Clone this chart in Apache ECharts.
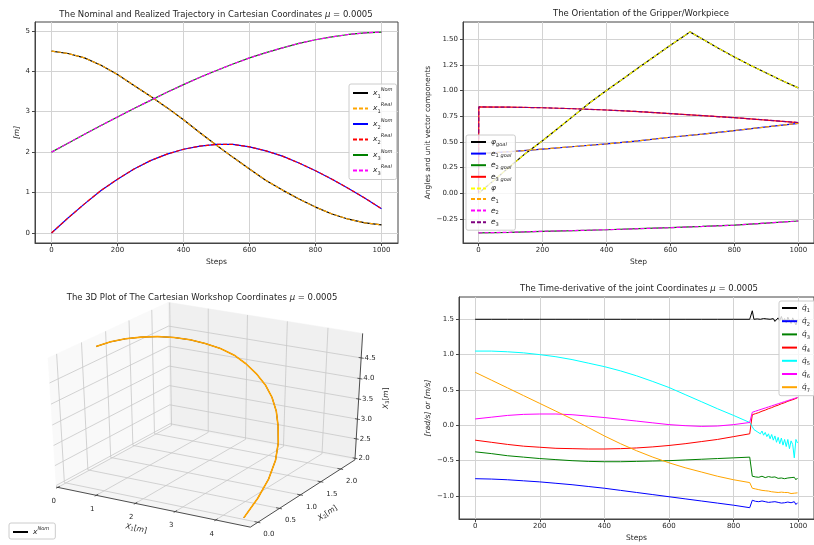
<!DOCTYPE html>
<html><head><meta charset="utf-8">
<script src="https://cdn.jsdelivr.net/npm/echarts@6/dist/echarts.min.js"></script>
<style>html,body{margin:0;padding:0;background:#fff}#c{width:814px;height:545px}</style>
</head><body><div id="c"></div>
<script>
// ---------- data: top-left (Cartesian trajectory) ----------
const stepsA = [0,50,100,150,200,250,300,350,400,450,500,550,600,650,700,750,800,850,900,950,1000];
const x1Nom  = [4.50,4.44,4.33,4.15,3.92,3.65,3.38,3.10,2.80,2.48,2.17,1.87,1.58,1.30,1.06,0.84,0.64,0.47,0.34,0.25,0.20];
const x1Real = [4.50,4.44,4.33,4.15,3.92,3.65,3.38,3.10,2.80,2.48,2.17,1.87,1.58,1.30,1.06,0.84,0.64,0.47,0.34,0.25,0.20];
const x2Nom  = [0.00,0.37,0.72,1.05,1.33,1.58,1.79,1.95,2.07,2.15,2.19,2.19,2.13,2.03,1.90,1.73,1.54,1.33,1.10,0.86,0.60];
const x2Real = [0.00,0.37,0.72,1.05,1.33,1.58,1.79,1.95,2.07,2.15,2.19,2.19,2.13,2.03,1.90,1.73,1.54,1.33,1.10,0.86,0.60];
const x3Nom  = [2.00,2.22,2.44,2.66,2.87,3.08,3.28,3.48,3.67,3.85,4.02,4.18,4.33,4.46,4.58,4.69,4.78,4.85,4.91,4.95,4.97];
const x3Real = [2.00,2.22,2.44,2.66,2.87,3.08,3.28,3.48,3.67,3.85,4.02,4.18,4.33,4.46,4.58,4.69,4.78,4.85,4.91,4.95,4.97];

// ---------- data: top-right (orientation) ----------
const phiSteps = [0,50,100,150,200,250,300,350,400,450,500,550,600,650,661,700,750,800,850,900,950,1000];
const phiGoal  = [0,0.13,0.265,0.395,0.51,0.635,0.76,0.885,1.0,1.11,1.22,1.33,1.44,1.545,1.57,1.50,1.41,1.325,1.245,1.17,1.095,1.025];
const phiReal  = [0,0.13,0.265,0.395,0.51,0.635,0.76,0.885,1.0,1.11,1.22,1.33,1.44,1.545,1.57,1.50,1.41,1.325,1.245,1.17,1.095,1.025];
const eSteps = [0,1,100,200,300,400,500,600,700,800,900,1000];
const e1Goal = [0.385,0.385,0.405,0.43,0.455,0.48,0.51,0.545,0.575,0.61,0.645,0.68];
const e2Goal = [-0.385,-0.385,-0.38,-0.37,-0.363,-0.355,-0.345,-0.335,-0.323,-0.31,-0.29,-0.27];
const e3Goal = [0,0.84,0.837,0.832,0.822,0.81,0.795,0.775,0.755,0.735,0.712,0.688];
const e1Real = [0.385,0.385,0.405,0.43,0.455,0.48,0.51,0.545,0.575,0.61,0.645,0.68];
const e2Real = [-0.385,-0.385,-0.38,-0.37,-0.363,-0.355,-0.345,-0.335,-0.323,-0.31,-0.29,-0.27];
const e3Real = [0,0.84,0.837,0.832,0.822,0.81,0.795,0.775,0.755,0.735,0.712,0.688];

// ---------- data: bottom-right (joint velocities) ----------
const qSteps = [0,50,100,150,200,250,300,350,400,450,500,550,600,650,700,750,800,850,856,
  858,863,868,873,878,883,888,893,898,903,908,913,918,923,928,933,938,943,948,953,958,963,968,973,978,983,988,993,998];
const q1 = [1.5,1.5,1.5,1.5,1.5,1.5,1.5,1.5,1.5,1.5,1.5,1.5,1.5,1.5,1.5,1.5,1.5,1.5,1.5,
  1.62,1.50,1.495,1.505,1.49,1.50,1.495,1.51,1.49,1.505,1.49,1.50,1.485,1.51,1.47,1.46,1.52,1.48,1.54,1.47,1.51,1.45,1.53,1.48,1.44,1.52,1.47,1.42,1.49];
const q2 = [-0.755,-0.76,-0.77,-0.785,-0.80,-0.82,-0.84,-0.865,-0.89,-0.92,-0.95,-0.98,-1.01,-1.04,-1.07,-1.10,-1.13,-1.165,-1.17,
  -1.06,-1.07,-1.075,-1.07,-1.08,-1.075,-1.07,-1.085,-1.08,-1.075,-1.09,-1.08,-1.085,-1.09,-1.08,-1.095,-1.09,-1.085,-1.10,-1.09,-1.095,-1.10,-1.085,-1.10,-1.095,-1.11,-1.08,-1.12,-1.095];
const q3 = [-0.375,-0.40,-0.43,-0.45,-0.47,-0.485,-0.50,-0.51,-0.515,-0.515,-0.51,-0.505,-0.50,-0.49,-0.48,-0.47,-0.46,-0.45,-0.45,
  -0.72,-0.725,-0.73,-0.725,-0.735,-0.73,-0.72,-0.735,-0.74,-0.73,-0.725,-0.74,-0.735,-0.745,-0.73,-0.74,-0.75,-0.735,-0.745,-0.74,-0.755,-0.735,-0.745,-0.75,-0.74,-0.76,-0.735,-0.77,-0.745];
const q4 = [-0.21,-0.24,-0.27,-0.295,-0.31,-0.325,-0.33,-0.335,-0.335,-0.33,-0.32,-0.305,-0.285,-0.26,-0.23,-0.20,-0.16,-0.12,-0.11,
  0.15,0.155,0.165,0.17,0.18,0.19,0.20,0.205,0.215,0.225,0.235,0.24,0.25,0.26,0.27,0.275,0.285,0.295,0.305,0.31,0.32,0.33,0.34,0.345,0.355,0.365,0.37,0.38,0.39];
const q5 = [1.05,1.05,1.04,1.025,1.0,0.97,0.93,0.88,0.83,0.77,0.70,0.62,0.535,0.435,0.335,0.235,0.14,0.04,0.028,
  -0.02,-0.06,-0.04,-0.09,-0.07,-0.12,-0.08,-0.14,-0.10,-0.16,-0.12,-0.19,-0.13,-0.21,-0.15,-0.24,-0.17,-0.26,-0.18,-0.28,-0.20,-0.30,-0.20,-0.33,-0.22,-0.27,-0.46,-0.20,-0.25];
const q6 = [0.09,0.115,0.14,0.155,0.16,0.16,0.15,0.13,0.11,0.085,0.06,0.035,0.01,-0.005,-0.015,-0.01,0.01,0.04,0.05,
  0.185,0.19,0.20,0.205,0.215,0.22,0.23,0.235,0.245,0.25,0.26,0.265,0.275,0.28,0.29,0.295,0.305,0.31,0.32,0.325,0.335,0.34,0.35,0.355,0.365,0.37,0.38,0.385,0.395];
const q7 = [0.75,0.64,0.53,0.42,0.31,0.20,0.09,-0.03,-0.15,-0.26,-0.36,-0.45,-0.53,-0.60,-0.66,-0.72,-0.77,-0.81,-0.81,
  -0.89,-0.895,-0.90,-0.905,-0.91,-0.915,-0.92,-0.92,-0.925,-0.93,-0.93,-0.935,-0.94,-0.94,-0.945,-0.945,-0.95,-0.95,-0.945,-0.955,-0.95,-0.96,-0.95,-0.955,-0.965,-0.95,-0.96,-0.97,-0.955];

// ---------- tick labels ----------
const ticksStep = [0,200,400,600,800,1000];
const ticksY1 = [0,1,2,3,4,5];
const ticksY2 = [-0.25,0,0.25,0.5,0.75,1.0,1.25,1.5];
const ticksY4 = [-1.0,-0.5,0,0.5,1.0,1.5];
const ticks3dX1 = [0,1,2,3,4];
const ticks3dX2 = [0,0.5,1.0,1.5,2.0];
const ticks3dX3 = [2.0,2.5,3.0,3.5,4.0,4.5];

// ---------- 3D projection (matplotlib-like view, elev 30, azim -60) ----------
const B1 = [-0.04, 4.84], B2 = [-0.17, 2.37], B3 = [1.96, 5.08];
const VIEW = {elev: 30, azim: -60, dist: 10, sx: 224.3, sy: 141.8, cx: 207.9, cy: 411, kz: 1.04};
const el = VIEW.elev*Math.PI/180, az = VIEW.azim*Math.PI/180;
const DV = [Math.cos(el)*Math.cos(az), Math.cos(el)*Math.sin(az), Math.sin(el)];
const UV = (() => { const x = -DV[1], y = DV[0]; const n = Math.hypot(x, y); return [x/n, y/n, 0]; })();
const VV = [DV[1]*UV[2]-DV[2]*UV[1], DV[2]*UV[0]-DV[0]*UV[2], DV[0]*UV[1]-DV[1]*UV[0]];
function proj(a, b, c) {
  const p = [(a-B1[0])/(B1[1]-B1[0]) - 0.5, (b-B2[0])/(B2[1]-B2[0]) - 0.5, ((c-B3[0])/(B3[1]-B3[0]) - 0.5)*VIEW.kz];
  const dot = (w) => w[0]*p[0] + w[1]*p[1] + w[2]*p[2];
  const f = VIEW.dist/(VIEW.dist - dot(DV));
  return [VIEW.cx + VIEW.sx*dot(UV)*f, VIEW.cy - VIEW.sy*dot(VV)*f];
}

// ---------- helpers ----------
const FONT = "'DejaVu Sans', sans-serif";
const TXT = '#262626';
const pairs = (xs, ys) => xs.map((x, i) => [x, ys[i]]);
const fmtMinus = (s) => s.replace('-', '\u2212');
const rich = (fs, lh) => ({
  v: {fontFamily: FONT, fontStyle: 'italic', fontSize: fs, lineHeight: lh, color: TXT, verticalAlign: 'middle'},
  g: {fontFamily: FONT, fontSize: fs, lineHeight: lh, color: TXT, verticalAlign: 'middle'},
  sb: {fontFamily: FONT, fontSize: fs*0.68, lineHeight: fs*0.75, color: TXT, verticalAlign: 'bottom'},
  sbi: {fontFamily: FONT, fontStyle: 'italic', fontSize: fs*0.68, lineHeight: fs*0.75, color: TXT, verticalAlign: 'bottom'},
  sp: {fontFamily: FONT, fontStyle: 'italic', fontSize: fs*0.68, lineHeight: fs*0.75, color: TXT, verticalAlign: 'top'}
});
function xAxisCfg(gi, min, max, name, gap) {
  return {type: 'value', gridIndex: gi, min, max, name, nameLocation: 'middle', nameGap: gap,
    nameTextStyle: {fontFamily: FONT, fontSize: 7.5, color: TXT},
    axisLine: {show: true, onZero: false, lineStyle: {color: '#444', width: 1}},
    axisTick: {show: true, length: 3, lineStyle: {color: '#444'}, customValues: ticksStep},
    axisLabel: {fontFamily: FONT, fontSize: 7, color: TXT, margin: 4, customValues: ticksStep,
      formatter: (v) => String(Math.round(v))},
    splitLine: {show: true, lineStyle: {color: '#d3d3d3', width: 1}}};
}
function yAxisCfg(gi, min, max, name, gap, ticks, dec, nameStyle) {
  return {type: 'value', gridIndex: gi, min, max, name, nameLocation: 'middle', nameGap: gap, nameRotate: 90,
    nameTextStyle: Object.assign({fontFamily: FONT, fontSize: 7.5, color: TXT}, nameStyle || {}),
    axisLine: {show: true, onZero: false, lineStyle: {color: '#444', width: 1}},
    axisTick: {show: true, length: 3, lineStyle: {color: '#444'}, customValues: ticks},
    axisLabel: {fontFamily: FONT, fontSize: 7, color: TXT, margin: 5, customValues: ticks,
      formatter: (v) => fmtMinus(Number(v).toFixed(dec))},
    splitLine: {show: true, lineStyle: {color: '#d3d3d3', width: 1}}};
}
function lineS(name, xi, xs, ys, color, dashed, w) {
  return {name, type: 'line', xAxisIndex: xi, yAxisIndex: xi, data: pairs(xs, ys), symbol: 'none', showSymbol: false,
    lineStyle: {color, width: w || 1.2, type: dashed ? [4, 2] : 'solid'}, itemStyle: {color}, z: 3, silent: true};
}
function legendCfg(names, labels, left, top, lh, gap, pad) {
  return {data: names, orient: 'vertical', left, top, itemWidth: 15, itemHeight: 8, itemGap: gap, padding: pad,
    backgroundColor: 'rgba(255,255,255,0.8)', borderColor: '#cccccc', borderWidth: 1, borderRadius: 2,
    itemStyle: {opacity: 0, borderWidth: 0},
    formatter: (n) => labels[n], selectedMode: false,
    textStyle: {fontFamily: FONT, fontSize: 7.5, color: TXT, rich: rich(7.5, lh)}};
}
const titleCfg = (pre, post, left, top) => ({
  text: post === null ? '{n|' + pre + '}' : '{n|' + pre + '}{i|\u03bc}{n|' + post + '}',
  left, top, textAlign: 'center', padding: 0,
  textStyle: {fontFamily: FONT, fontSize: 8.5, fontWeight: 'normal', color: TXT,
    rich: {n: {fontFamily: FONT, fontSize: 8.5, color: TXT}, i: {fontFamily: FONT, fontStyle: 'italic', fontSize: 8.5, color: TXT}}}
});

// ---------- 3D frame (custom series drawn through pixel-space axes) ----------
function render3D(params, api) {
  const P = (a, b, c) => api.coord(proj(a, b, c));
  const kids = [];
  const poly = (pts, fill) => kids.push({type: 'polygon', shape: {points: pts}, style: {fill, stroke: fill, lineWidth: 0.5}});
  const seg = (p, q, color, w) => kids.push({type: 'line', shape: {x1: p[0], y1: p[1], x2: q[0], y2: q[1]}, style: {stroke: color, lineWidth: w}});
  const txt = (p, dx, dy, text, rot, extra) => kids.push({type: 'text', x: p[0] + dx, y: p[1] + dy, rotation: rot || 0,
    style: Object.assign({text, fill: TXT, fontFamily: FONT, fontSize: 7, align: 'center', verticalAlign: 'middle'}, extra || {})});
  const [a0, a1] = B1, [b0, b1] = B2, [c0, c1] = B3;
  poly([P(a0,b0,c0), P(a1,b0,c0), P(a1,b1,c0), P(a0,b1,c0)], '#f5f5f5');   // floor
  poly([P(a0,b0,c0), P(a0,b1,c0), P(a0,b1,c1), P(a0,b0,c1)], '#f9f9f9');   // x1 = min wall
  poly([P(a0,b1,c0), P(a1,b1,c0), P(a1,b1,c1), P(a0,b1,c1)], '#f0f0f0');   // x2 = max wall
  const G = '#c8c8c8', GW = 0.8;
  ticks3dX1.forEach(t => { seg(P(t,b0,c0), P(t,b1,c0), G, GW); seg(P(t,b1,c0), P(t,b1,c1), G, GW); });
  ticks3dX2.forEach(t => { seg(P(a0,t,c0), P(a1,t,c0), G, GW); seg(P(a0,t,c0), P(a0,t,c1), G, GW); });
  ticks3dX3.forEach(t => { seg(P(a0,b0,t), P(a0,b1,t), G, GW); seg(P(a0,b1,t), P(a1,b1,t), G, GW); });
  const AX = '#3a3a3a';
  seg(P(a0,b0,c0), P(a1,b0,c0), AX, 0.9);
  seg(P(a1,b0,c0), P(a1,b1,c0), AX, 0.9);
  seg(P(a1,b1,c0), P(a1,b1,c1), AX, 0.9);
  const d1 = (B1[1]-B1[0])/12, d2 = (B2[1]-B2[0])/12;
  ticks3dX1.forEach(t => { seg(P(t,b0+0.2*d2,c0), P(t,b0-0.15*d2,c0), AX, 0.8); txt(P(t,b0,c0), -4, 14, String(t)); });
  ticks3dX2.forEach(t => { seg(P(a1-0.2*d1,t,c0), P(a1+0.15*d1,t,c0), AX, 0.8); txt(P(a1,t,c0), 11, 12, t.toFixed(1)); });
  ticks3dX3.forEach(t => { seg(P(a1-0.15*d1,b1,t), P(a1+0.15*d1,b1,t), AX, 0.8); txt(P(a1,b1,t), 9, 0, t.toFixed(1)); });
  const lab = {rich: {i: {fontFamily: FONT, fontStyle: 'italic', fontSize: 7.5, fill: TXT}, n: {fontFamily: FONT, fontSize: 7.5, fill: TXT},
    s: {fontFamily: FONT, fontSize: 5.2, fill: TXT, verticalAlign: 'bottom', lineHeight: 6}}};
  txt(P((a0+a1)/2,b0,c0), -15, 22, '{i|X}{s|1}{n|[}{i|m}{n|]}', -0.21, lab);
  txt(P(a1,(b0+b1)/2,c0), 23, 21, '{i|X}{s|2}{n|[}{i|m}{n|]}', 0.59, lab);
  txt(P(a1,b1,(c0+c1)/2), 27, 0, '{i|X}{s|3}{n|[}{i|m}{n|]}', Math.PI/2, lab);
  return {type: 'group', children: kids};
}

const lab1 = {x1Nom: '{v|x}{sb|1}{sp|Nom}', x1Real: '{v|x}{sb|1}{sp|Real}', x2Nom: '{v|x}{sb|2}{sp|Nom}',
  x2Real: '{v|x}{sb|2}{sp|Real}', x3Nom: '{v|x}{sb|3}{sp|Nom}', x3Real: '{v|x}{sb|3}{sp|Real}'};
const lab2 = {phiGoal: '{v|\u03c6}{sbi|goal}', e1Goal: '{v|e}{sb|1 }{sbi|goal}', e2Goal: '{v|e}{sb|2 }{sbi|goal}',
  e3Goal: '{v|e}{sb|3 }{sbi|goal}', phiReal: '{v|\u03c6}', e1Real: '{v|e}{sb|1}', e2Real: '{v|e}{sb|2}', e3Real: '{v|e}{sb|3}'};
const lab4 = {q1: '{v|q\u0307}{sb|1}', q2: '{v|q\u0307}{sb|2}', q3: '{v|q\u0307}{sb|3}', q4: '{v|q\u0307}{sb|4}',
  q5: '{v|q\u0307}{sb|5}', q6: '{v|q\u0307}{sb|6}', q7: '{v|q\u0307}{sb|7}'};
const lab3 = {xNom3D: '{v|x}{sp|Nom}'};

const curve3D = stepsA.map((s, i) => proj(x1Nom[i], x2Nom[i], x3Nom[i]));
const curve3DReal = stepsA.map((s, i) => proj(x1Real[i], x2Real[i], x3Real[i]));

const option = {
  animation: false,
  backgroundColor: '#ffffff',
  title: [
    titleCfg('The Nominal and Realized Trajectory in Cartesian Coordinates ', ' = 0.0005', 216, 10),
    titleCfg('The Orientation of the Gripper/Workpiece', null, 641, 9),
    titleCfg('The 3D Plot of The Cartesian Workshop Coordinates ', ' = 0.0005', 202, 293),
    titleCfg('The Time-derivative of the joint Coordinates ', ' = 0.0005', 639, 284)
  ],
  grid: [
    {left: 35, top: 22, width: 363, height: 221, show: true, borderColor: '#444', borderWidth: 1, containLabel: false},
    {left: 463, top: 22, width: 356, height: 221, show: true, borderColor: '#444', borderWidth: 1},
    {left: 0, top: 0, width: 814, height: 545, show: false},
    {left: 459, top: 297, width: 360, height: 222, show: true, borderColor: '#444', borderWidth: 1}
  ],
  xAxis: [
    xAxisCfg(0, -50, 1050, 'Steps', 15),
    xAxisCfg(1, -48.5, 1049, 'Step', 15),
    {type: 'value', gridIndex: 2, min: 0, max: 814, show: false},
    xAxisCfg(3, -50, 1049, 'Steps', 15)
  ],
  yAxis: [
    yAxisCfg(0, -0.2485, 5.2185, '[m]', 14, ticksY1, 0, {fontStyle: 'italic'}),
    yAxisCfg(1, -0.484, 1.666, 'Angles and unit vector components', 31, ticksY2, 2),
    {type: 'value', gridIndex: 2, min: 0, max: 545, inverse: true, show: false},
    yAxisCfg(3, -1.325, 1.815, '[rad/s] or [m/s]', 27, ticksY4, 1, {fontStyle: 'italic'})
  ],
  legend: [
    legendCfg(['x1Nom','x1Real','x2Nom','x2Real','x3Nom','x3Real'], lab1, 349, 84, 12, 3.5, [3, 4, 3, 3]),
    legendCfg(['phiGoal','e1Goal','e2Goal','e3Goal','phiReal','e1Real','e2Real','e3Real'], lab2, 466, 135, 10, 2.6, [3, 4, 3, 4]),
    legendCfg(['q1','q2','q3','q4','q5','q6','q7'], lab4, 779, 301, 11, 3.7, [3, 6, 3, 2]),
    legendCfg(['xNom3D'], lab3, 9, 523, 12, 2, [3, 6, 3, 3])
  ],
  series: [
    lineS('x1Nom', 0, stepsA, x1Nom, '#000000', false),
    lineS('x1Real', 0, stepsA, x1Real, '#FFA500', true),
    lineS('x2Nom', 0, stepsA, x2Nom, '#0000FF', false),
    lineS('x2Real', 0, stepsA, x2Real, '#FF0000', true),
    lineS('x3Nom', 0, stepsA, x3Nom, '#008000', false),
    lineS('x3Real', 0, stepsA, x3Real, '#FF00FF', true),

    lineS('phiGoal', 1, phiSteps, phiGoal, '#000000', false),
    lineS('e1Goal', 1, eSteps, e1Goal, '#0000FF', false),
    lineS('e2Goal', 1, eSteps, e2Goal, '#008000', false),
    lineS('e3Goal', 1, eSteps, e3Goal, '#FF0000', false),
    lineS('phiReal', 1, phiSteps, phiReal, '#FFFF00', true),
    lineS('e1Real', 1, eSteps, e1Real, '#FFA500', true),
    lineS('e2Real', 1, eSteps, e2Real, '#FF00FF', true),
    lineS('e3Real', 1, eSteps, e3Real, '#800080', true),

    {type: 'custom', xAxisIndex: 2, yAxisIndex: 2, data: [0], renderItem: render3D, silent: true, z: 1},
    Object.assign(lineS('xNom3D', 2, curve3D.map(p => p[0]), curve3D.map(p => p[1]), '#000000', false, 1), {z: 4}),
    Object.assign(lineS('xReal3D', 2, curve3DReal.map(p => p[0]), curve3DReal.map(p => p[1]), '#FFA500', false, 1.6), {z: 5}),

    lineS('q1', 3, qSteps, q1, '#000000', false, 1),
    lineS('q2', 3, qSteps, q2, '#0000FF', false, 1),
    lineS('q3', 3, qSteps, q3, '#008000', false, 1),
    lineS('q4', 3, qSteps, q4, '#FF0000', false, 1),
    lineS('q5', 3, qSteps, q5, '#00FFFF', false, 1),
    lineS('q6', 3, qSteps, q6, '#FF00FF', false, 1),
    lineS('q7', 3, qSteps, q7, '#FFA500', false, 1)
  ]
};
const chart = echarts.init(document.getElementById('c'), null, {renderer: 'canvas'});
chart.setOption(option);
</script>
</body></html>
